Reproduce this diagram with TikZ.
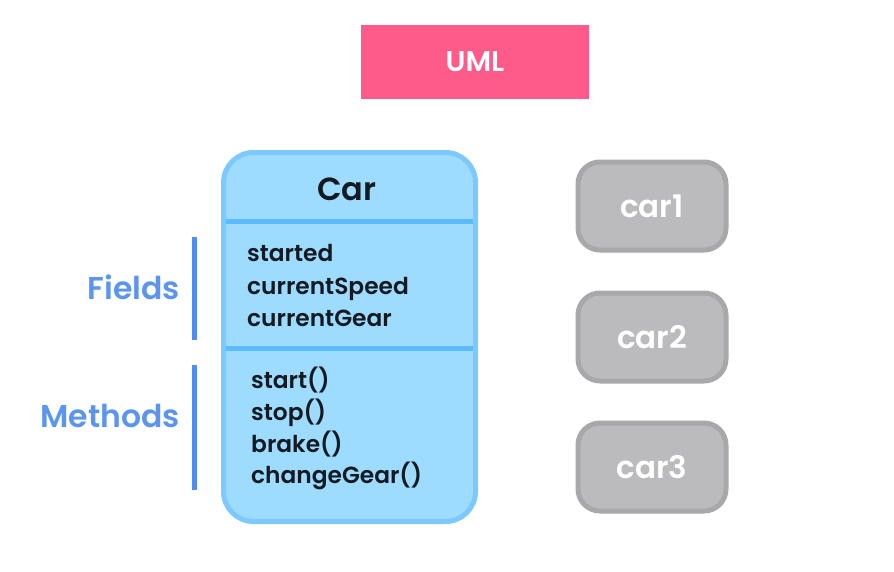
\documentclass[tikz,border=0pt]{standalone}
\usepackage{fontspec}
\setmainfont{Poppins}[BoldFont={Poppins SemiBold}]
\definecolor{umlpink}{HTML}{FF5B8A}
\definecolor{carfill}{HTML}{9DDCFF}
\definecolor{carborder}{HTML}{7DC8FF}
\definecolor{cardiv}{HTML}{5BBBFF}
\definecolor{lblblue}{HTML}{5B95F0}
\definecolor{barblue}{HTML}{4F8EF0}
\definecolor{objfill}{HTML}{BBBBBD}
\definecolor{objborder}{HTML}{A8A8AA}
\definecolor{txtdark}{HTML}{151A22}
\begin{document}
\begin{tikzpicture}[x=1pt,y=-1pt,
  objbox/.style={draw=objborder,fill=objfill,line width=5pt,rounded corners=22pt,minimum width=148pt,minimum height=88pt,text=white,font=\fontsize{31}{35}\selectfont\bfseries,inner sep=0},
  member/.style={anchor=base west,text=txtdark,font=\fontsize{23.3}{27}\selectfont\bfseries,inner sep=0},
  side/.style={anchor=east,text=lblblue,font=\fontsize{31.5}{36}\selectfont\bfseries,inner sep=0},
  bar/.style={draw=barblue,line width=5pt}]
\useasboundingbox (0,0) rectangle (894,571);
% UML header
\node[fill=umlpink,minimum width=228pt,minimum height=74pt,inner sep=0,text=white,font=\fontsize{28.5}{32}\selectfont\bfseries] (uml) at (475,62) {UML};
% class box
\draw[draw=carborder,fill=carfill,line width=5pt,rounded corners=30pt] (223.5,152.5) rectangle (475.5,521.5);
\coordinate (d1l) at (226,221); \coordinate (d1r) at (473,221);
\coordinate (d2l) at (226,348); \coordinate (d2r) at (473,348);
\draw[draw=cardiv,line width=5pt] (d1l) -- (d1r);
\draw[draw=cardiv,line width=5pt] (d2l) -- (d2r);
\node[text=txtdark,font=\fontsize{32}{36}\selectfont\bfseries,inner sep=0] (title) at (347,189) {Car};
\node[member] (f1) at (247,261) {started};
\node[member] (f2) at (247,294) {currentSpeed};
\node[member] (f3) at (247,326) {currentGear};
\node[member] (m1) at (251,388) {start()};
\node[member] (m2) at (251,420) {stop()};
\node[member] (m3) at (251,452) {brake()};
\node[member] (m4) at (251,483) {changeGear()};
% side labels
\node[side] (fields) at (180,287) {Fields};
\node[side] (methods) at (180,416) {Methods};
\coordinate (fb1) at (194,237); \coordinate (fb2) at (194,340);
\coordinate (mb1) at (194,365); \coordinate (mb2) at (194,490);
\draw[bar] (fb1) -- (fb2);
\draw[bar] (mb1) -- (mb2);
% objects
\node[objbox] (car1) at (652,206) {car1};
\node[objbox] (car2) at (652,337) {car2};
\node[objbox] (car3) at (652,467) {car3};
\end{tikzpicture}
\end{document}
